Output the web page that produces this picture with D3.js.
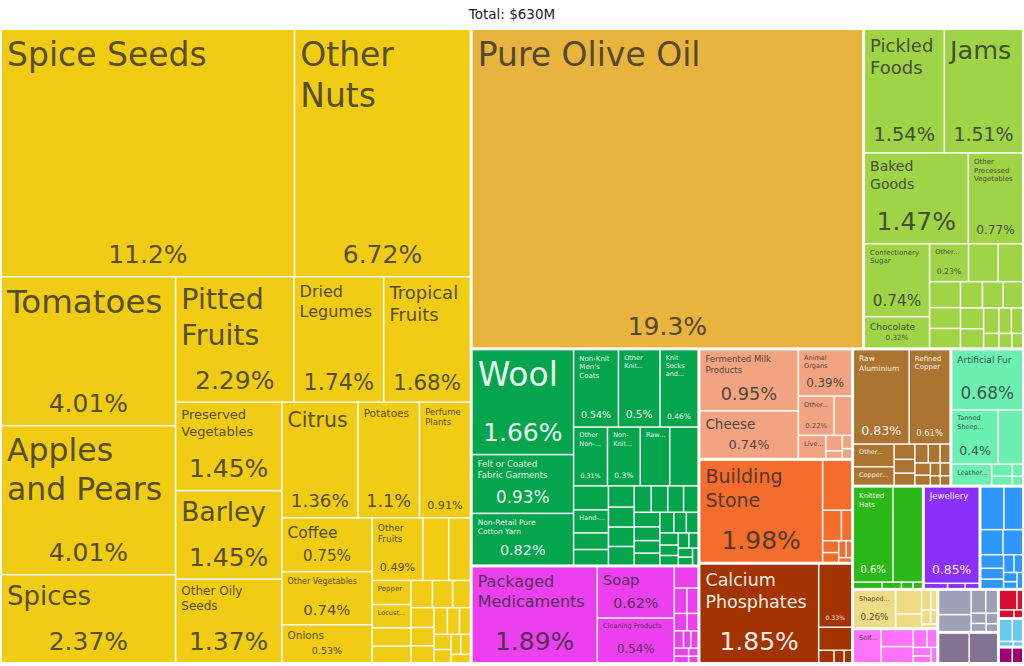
<!DOCTYPE html>
<html><head><meta charset="utf-8">
<script src="https://cdn.jsdelivr.net/npm/d3@7"></script>
<style>body{margin:0;background:#fff}svg{display:block}</style>
</head><body>
<svg id="chart" width="1024" height="666"></svg>
<script>
const totalLabel = "Total: $630M";
const sectorNames = ["Vegetable Products","Animal and Vegetable Bi-Products","Foodstuffs","Textiles","Chemical Products","Animal Products","Stone And Glass","Mineral Products","Metals","Animal Hides","Footwear and Headwear","Precious Metals","Machines","Paper Goods","Plastics and Rubbers","Miscellaneous","Arts and Antiques","Transportation","Wood Products","Instruments"];

const vegetableProducts = [["Spice Seeds",11.2],["Other Nuts",6.72],["Tomatoes",4.01],["Apples and Pears",4.01],["Spices",2.37],["Pitted Fruits",2.29],["Dried Legumes",1.74],["Tropical Fruits",1.68],["Preserved Vegetables",1.45],["Barley",1.45],["Other Oily Seeds",1.37],["Citrus",1.36],["Potatoes",1.1],["Perfume Plants",0.91],["Coffee",0.75],["Other Vegetables",0.74],["Onions",0.53],["Other Fruits",0.49],["",0.25],["",0.21],["Pepper",0.145],["Locust Beans",0.14],["",0.11],["",0.1],["",0.09],["",0.085],["",0.075],["",0.07],["",0.065],["",0.06],["",0.055],["",0.05],["",0.045],["",0.04],["",0.035],["",0.03],["",0.03],["",0.025]];
const biProducts = [["Pure Olive Oil",19.3]];
const foodstuffs = [["Pickled Foods",1.54],["Jams",1.51],["Baked Goods",1.47],["Other Processed Vegetables",0.77],["Confectionery Sugar",0.74],["Chocolate",0.32],["Other Edible Preparations",0.23],["",0.175],["",0.145],["",0.125],["Coffee and Tea Extracts",0.1],["",0.095],["",0.09],["",0.085],["",0.08],["",0.075],["",0.07],["",0.06],["",0.05],["",0.045],["",0.035],["",0.03],["",0.025]];
const textiles = [["Wool",1.66],["Felt or Coated Fabric Garments",0.93],["Non-Retail Pure Cotton Yarn",0.82],["Non-Knit Men's Coats",0.54],["Other Knit Garments",0.5],["Knit Socks and Hosiery",0.46],["Other Non-Knit Clothing Accessories",0.31],["Non-Knit Men's Suits",0.3],["Raw Cotton",0.27],["Non-Knit Women's Suits",0.26],["",0.13],["Hand-Woven Rugs",0.125],["",0.09],["",0.085],["Non-Knit Babies' Garments",0.085],["",0.08],["",0.078],["",0.075],["",0.07],["",0.068],["",0.065],["",0.06],["",0.058],["",0.055],["",0.05],["",0.048],["",0.045],["",0.04],["",0.038],["",0.035],["",0.03],["",0.028],["",0.025],["",0.022],["",0.02],["",0.018],["",0.015]];
const chemicalProducts = [["Packaged Medicaments",1.89],["Soap",0.62],["Cleaning Products",0.54],["",0.08],["",0.05],["",0.045],["",0.035],["",0.03],["",0.025],["",0.02],["",0.02],["",0.018],["",0.015],["",0.012],["",0.01]];
const animalProducts = [["Fermented Milk Products",0.95],["Cheese",0.74],["Animal Organs",0.39],["Other Edible Animal Products",0.22],["",0.11],["Live Animals",0.1],["",0.04],["",0.02],["",0.02],["",0.015]];
const stoneAndGlass = [["Building Stone",1.98],["",0.23],["",0.09],["",0.05],["",0.03],["",0.025],["",0.02],["",0.015],["",0.01]];
const mineralProducts = [["Calcium Phosphates",1.85],["",0.33],["",0.12],["",0.03],["",0.02],["",0.015]];
const metals = [["Raw Aluminium",0.83],["Refined Copper",0.61],["Other Aluminium Products",0.146],["Copper Wire",0.12],["",0.05],["",0.045],["",0.04],["",0.04],["",0.035],["",0.03],["",0.03],["",0.025],["",0.02],["",0.02],["",0.015],["",0.015]];
const animalHides = [["Artificial Fur",0.68],["Tanned Sheep Hides",0.4],["",0.21],["Leather Apparel",0.135],["",0.04],["",0.03],["",0.02],["",0.015]];
const footwear = [["Knitted Hats",0.6],["",0.45],["",0.03],["",0.02],["",0.012],["",0.01]];
const preciousMetals = [["Jewellery",0.85],["",0.02],["",0.015],["",0.012]];
const machines = [["",0.16],["",0.13],["",0.09],["",0.08],["",0.05],["",0.04],["",0.035],["",0.03],["",0.025],["",0.02],["",0.015],["",0.015]];
const paperGoods = [["Shaped Paper",0.26],["",0.1],["",0.06],["",0.03],["",0.02],["",0.02],["",0.015],["",0.01]];
const plastics = [["Self Adhesive Plastics",0.15],["",0.09],["",0.085],["",0.04],["",0.03],["",0.025],["",0.02],["",0.015]];
const miscellaneous = [["",0.13],["",0.09],["",0.055],["",0.045],["",0.025],["",0.02],["",0.02],["",0.015]];
const artsAntiques = [["",0.15],["",0.14]];
const transportation = [["",0.05],["",0.04],["",0.012],["",0.008]];
const woodProducts = [["",0.06],["",0.02],["",0.02],["",0.012]];
const instruments = [["",0.035],["",0.028]];

const sectorLeaves = [vegetableProducts,biProducts,foodstuffs,textiles,chemicalProducts,animalProducts,stoneAndGlass,mineralProducts,metals,animalHides,footwear,preciousMetals,machines,paperGoods,plastics,miscellaneous,artsAntiques,transportation,woodProducts,instruments];

// styles
const sectorColors = ["#F1CC14","#E8B43E","#A0D447","#05A54D","#EC40F0","#F2A482","#F36D2C","#A33300","#AB7430","#6CF0B2","#2CB818","#8B30F8","#2E97FF","#EEDC85","#FF73FA","#9EA1B6","#847390","#69C8EE","#DC0E30","#9E0071"];
const lightText = [false,false,false,true,false,false,false,true,true,false,true,true,true,false,false,false,true,false,true,true];

const svg = d3.select("#chart");
const FONT = "'DejaVu Sans', Verdana, sans-serif";
svg.append("text").attr("x",512).attr("y",19).attr("text-anchor","middle")
  .attr("font-family",FONT).attr("font-size",13.5).attr("fill","#222").text(totalLabel);

const data = {name:"root", children: sectorNames.map((s,i)=>({name:s, si:i,
  children: sectorLeaves[i].map(([n,v])=>({name:n, value:v, si:i}))}))};

const root = d3.hierarchy(data).sum(d=>d.value||0).sort((a,b)=>b.value-a.value);
d3.treemap().tile(d3.treemapSquarify).size([1020,632])
  .paddingInner(d=>d.depth===0?3:1.5)(root);

const g = svg.append("g").attr("transform","translate(2,30)");
const fmt = d3.format(".3~g");
const ctx = document.createElement("canvas").getContext("2d");
function tw(s,f){ctx.font = f+"px "+FONT; return ctx.measureText(s).width;}
function tokens(name){const out=[];name.split(" ").forEach(w=>{w.split(/(?<=-)/).forEach((p,i)=>out.push({t:p,sp:i===0}));});return out;}
function wrap(toks,W,f){
  const lines=[];let cur="";
  for(const k of toks){
    const cand = cur===""?k.t:cur+(k.sp?" ":"")+k.t;
    if(tw(cand,f)<=W){cur=cand;}
    else{
      if(cur===""){return {lines,bad:true};}
      lines.push(cur);
      if(tw(k.t,f)>W){return {lines,bad:true};}
      cur=k.t;
    }
  }
  if(cur)lines.push(cur);
  return {lines,bad:false};
}
const LH=1.25, FITLH=1.2, PAD=5, FMAX=33, FMIN=6.5;
function fitName(name,W,H){
  if(!name||W<8)return null;
  const toks=tokens(name);
  for(let f=FMAX;f>=FMIN;f-=0.5){
    const r=wrap(toks,W,f);
    if(!r.bad && r.lines.length*f*FITLH<=H)return {f,lines:r.lines};
  }
  const f=FMIN;const maxL=Math.floor(H/(f*FITLH));
  if(maxL<1)return null;
  const r=wrap(toks,W,f);let lines=r.lines;
  if(r.bad||lines.length>maxL){lines=lines.slice(0,maxL);if(!lines.length)return null;lines[lines.length-1]+="...";}
  return {f,lines};
}

const leaves = root.leaves();
const cell = g.selectAll("g.leaf").data(leaves).join("g").attr("class","leaf");
cell.append("rect").attr("x",d=>d.x0).attr("y",d=>d.y0)
  .attr("width",d=>Math.max(0,d.x1-d.x0)).attr("height",d=>Math.max(0,d.y1-d.y0))
  .attr("fill",d=>sectorColors[d.data.si]);

cell.each(function(d){
  const w=d.x1-d.x0,h=d.y1-d.y0;
  const bg=sectorColors[d.data.si];
  const col = lightText[d.data.si]? d3.interpolateRgb(bg,"#ffffff")(0.9) : d3.interpolateRgb(bg,"#2a2a2a")(0.78);
  const sel=d3.select(this);
  const shareStr=fmt(d.data.value)+"%";
  const sh=Math.min(50,(h-2*PAD)*0.5);
  let sf=Math.min(25,0.9*(w-2*PAD)/tw(shareStr,1),sh/1.4);
  if(!(sf>=5.8))sf=0;
  const H = sf? Math.max(h-55, 0.36*h) : Math.min(h-6, 0.6*h);
  const W = w-2*PAD-Math.min(6,0.06*w);
  const nm=fitName(d.data.name,W,H);
  if(nm){
    const t=sel.append("text").attr("font-family",FONT).attr("font-size",nm.f).attr("fill",col);
    nm.lines.forEach((l,i)=>t.append("tspan").attr("x",d.x0+PAD).attr("y",d.y0+Math.min(PAD,3+nm.f*0.1)+nm.f*0.93+i*nm.f*LH).text(l));
  }
  if(sf){
    sel.append("text").attr("font-family",FONT).attr("font-size",sf).attr("fill",col)
      .attr("text-anchor","middle").attr("x",(d.x0+d.x1)/2).attr("y",d.y1-PAD-sf*0.3).text(shareStr);
  }
});
</script>
</body></html>
